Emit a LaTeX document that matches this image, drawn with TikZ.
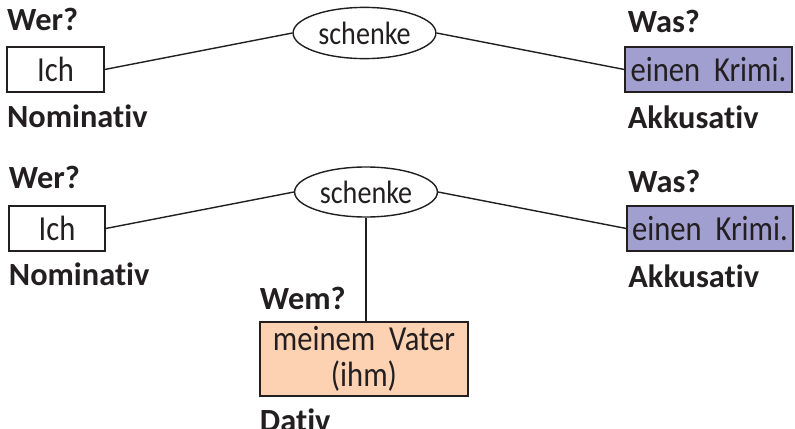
\documentclass[tikz,border=0pt]{standalone}
\usepackage{fontspec}
\setmainfont{Carlito}[Ligatures=NoCommon]
\newfontfamily\narrowfont{Carlito}[FakeStretch=0.87, Ligatures=NoCommon]
\usetikzlibrary{shapes.geometric,positioning}
\definecolor{ink}{RGB}{35,31,32}
\definecolor{krimiblue}{RGB}{161,159,208}
\definecolor{vaterpeach}{RGB}{252,210,178}

\begin{document}
\begin{tikzpicture}[x=0.025cm, y=-0.025cm, line width=1pt, text=ink,
	word/.style={draw=ink, rectangle, inner sep=0pt, minimum height=1.12cm, font=\narrowfont\fontsize{25}{25.6}\selectfont},
	verb/.style={draw=ink, ellipse, inner sep=0pt, minimum width=3.57cm, minimum height=1.28cm, font=\narrowfont\fontsize{23}{24}\selectfont},
	ask/.style={inner sep=0pt, font=\fontsize{23}{27}\selectfont\bfseries}]
	\useasboundingbox (0,0) rectangle (795,428);
	% first sentence
	\node[word, minimum width=2.42cm] (ich1) at (55.5,69.5) {Ich};
	\node[verb] (verb1) at (364.5,33) {schenke};
	\node[word, fill=krimiblue, minimum width=4.17cm] (krimi1) at (708.5,69.5) {einen~~Krimi.};
	\node[ask, above=11pt of ich1.north west, anchor=base west] (wer1) {Wer?};
	\node[ask, below=25pt of ich1.south west, anchor=base west] (nom1) {Nominativ};
	\node[ask, above right=10pt and 2pt of krimi1.north west, anchor=base west] (was1) {Was?};
	\node[ask, below right=25.5pt and 2pt of krimi1.south west, anchor=base west] (akk1) {Akkusativ};
	\draw[ink] (ich1.east) -- (verb1.west);
	\draw[ink] (verb1.east) -- (krimi1.west);
	% second sentence
	\node[word, minimum width=2.4cm] (ich2) at (57,228.5) {Ich};
	\node[verb, minimum height=1.25cm] (verb2) at (366,192) {schenke};
	\node[word, fill=krimiblue, minimum width=4.15cm] (krimi2) at (710,228.5) {einen~~Krimi.};
	\node[word, fill=vaterpeach, align=center, minimum width=5.2cm, minimum height=1.85cm] (vater) at (364,359) {meinem~~Vater\\(ihm)};
	\node[ask, above=12pt of ich2.north west, anchor=base west] (wer2) {Wer?};
	\node[ask, below=24pt of ich2.south west, anchor=base west] (nom2) {Nominativ};
	\node[ask, above right=9pt and 1pt of krimi2.north west, anchor=base west] (was2) {Was?};
	\node[ask, below right=25.5pt and 1pt of krimi2.south west, anchor=base west] (akk2) {Akkusativ};
	\node[ask, above=8.5pt of vater.north west, anchor=base west] (wem) {Wem?};
	\node[ask, below=25pt of vater.south west, anchor=base west] (dativ) {Dativ};
	\draw[ink] (ich2.east) -- (verb2.west);
	\draw[ink] (verb2.east) -- (krimi2.west);
	\draw[ink] (verb2.south) -- (verb2.south |- vater.north);
\end{tikzpicture}
\end{document}
